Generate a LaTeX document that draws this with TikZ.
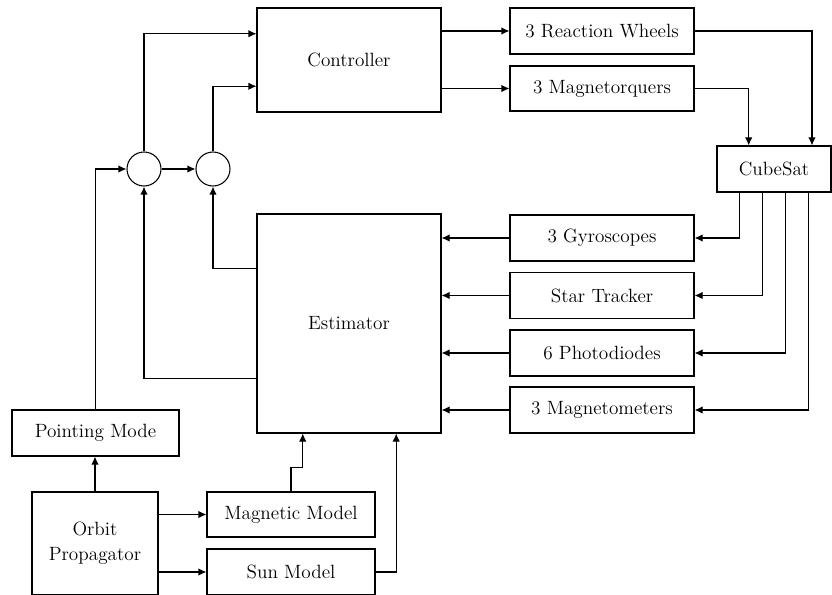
\documentclass[tikz,border=0pt]{standalone}
\usetikzlibrary{arrows.meta,calc}
\tikzset{
  block/.style={rectangle, draw, thick, inner sep=2pt, font=\fontsize{14.4}{19}\selectfont, align=center,
                minimum width=138pt, minimum height=34.5pt},
  sumnode/.style={circle, draw, thick, minimum size=25.5pt, inner sep=0pt},
  fwd/.style={-{Latex[length=6pt, width=5.5pt]}, thick},
}

\begin{document}
\begin{tikzpicture}[x=0.75pt, y=-0.75pt]
  \useasboundingbox (0,0) rectangle (832,595);
  % controller side
  \node[block, minimum height=78pt] (ctrl) at (349,60) {Controller};
  \node[block] (rw) at (602,31) {3 Reaction Wheels};
  \node[block, minimum height=33.75pt] (mtq) at (602,88.5) {3 Magnetorquers};
  \node[block, minimum width=85.5pt] (cube) at (774,169) {CubeSat};
  % sensors
  \node[block] (gyro) at (602,238) {3 Gyroscopes};
  \node[block] (star) at (602,295.5) {Star Tracker};
  \node[block] (diode) at (602,353) {6 Photodiodes};
  \node[block] (mgm) at (602,410) {3 Magnetometers};
  \node[block, minimum height=164.25pt] (est) at (349,323.5) {Estimator};
  % summing points
  \node[sumnode] (sum1) at (144,169) {};
  \node[sumnode] (sum2) at (213,169) {};
  % references
  \node[block, minimum width=125.25pt] (mode) at (95.5,433) {Pointing Mode};
  \node[block, minimum width=94.5pt, minimum height=77.25pt] (orbit) at (95,543.5) {Orbit\\Propagator};
  \node[block, minimum width=126pt, minimum height=33.75pt] (magmod) at (291,514.5) {Magnetic Model};
  \node[block, minimum width=126pt] (sun) at (291,572) {Sun Model};

  \draw[fwd] (mode.north) |- (sum1.west);
  \draw[fwd] (sum1) -- (sum2);
  \draw[fwd] (sum1.north) |- ($(ctrl.north west)!0.25!(ctrl.south west)$);
  \draw[fwd] (sum2.north) |- ($(ctrl.north west)!0.75!(ctrl.south west)$);
  \draw[fwd] (ctrl.east |- rw) -- (rw);
  \draw[fwd] (ctrl.east |- mtq) -- (mtq);
  \draw[fwd] (rw.east) -| ($(cube.north west)!0.83!(cube.north east)$);
  \draw[fwd] (mtq.east) -| ($(cube.north west)!0.28!(cube.north east)$);
  \foreach \s/\f in {gyro/0.2, star/0.4, diode/0.6, mgm/0.8} {
    \draw[fwd] ($(cube.south west)!\f!(cube.south east)$) |- (\s.east);
    \draw[fwd] (\s) -- (est.east |- \s);
  }
  \draw[fwd] ($(est.north west)!0.25!(est.south west)$) -| (sum2.south);
  \draw[fwd] ($(est.north west)!0.75!(est.south west)$) -| (sum1.south);
  \draw[fwd] (orbit.north) -- (orbit.north |- mode.south);
  \draw[fwd] (orbit.east |- magmod) -- (magmod);
  \draw[fwd] (orbit.east |- sun) -- (sun);
  \draw[fwd] (magmod.north) -- ++(0,-24) -| ($(est.south west)!0.25!(est.south east)$);
  \draw[fwd] (sun.east) -| ($(est.south west)!0.755!(est.south east)$);
\end{tikzpicture}
\end{document}
